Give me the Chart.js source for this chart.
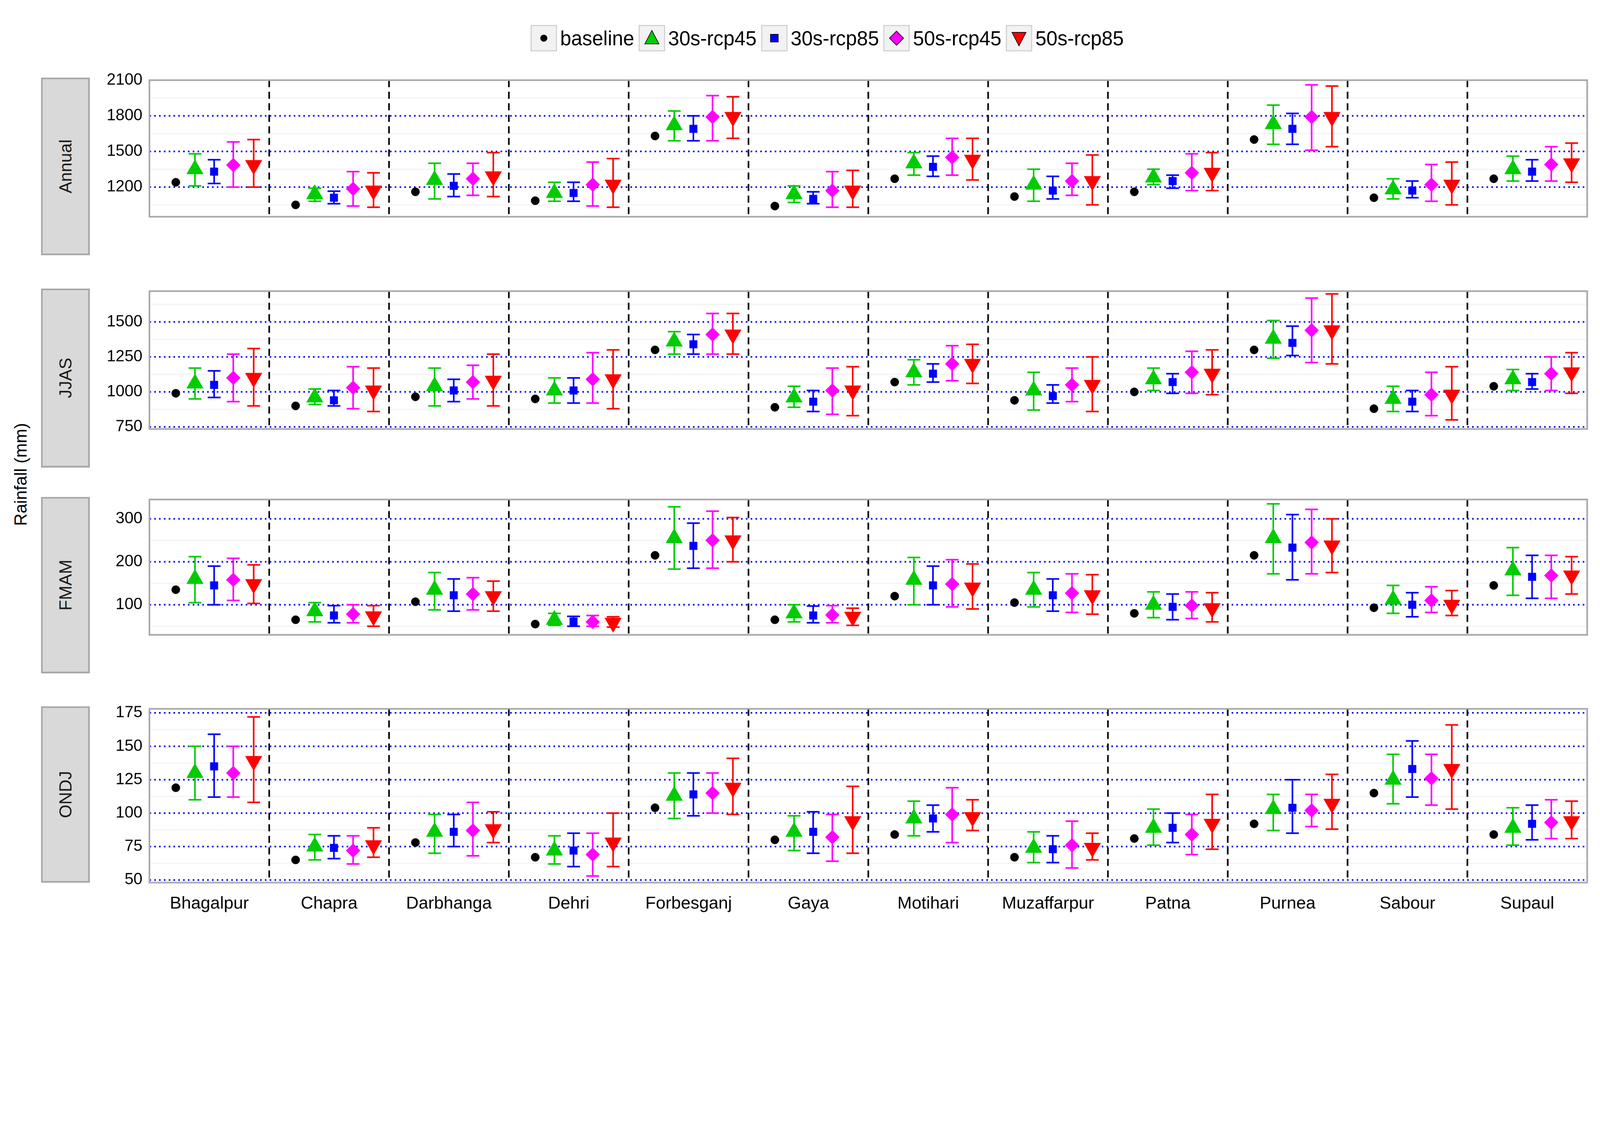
<!DOCTYPE html>
<html><head><meta charset="utf-8">
<script src="https://cdn.jsdelivr.net/npm/chart.js@4"></script>
<style>
html,body{margin:0;padding:0;overflow:hidden;background:#fff}
#root{position:absolute;left:0;top:0;width:4990px;height:2888px;background:#fff;font-family:"Liberation Sans",Arial,sans-serif;transform-origin:0 0}
canvas{position:absolute;left:0}
.strip{position:absolute;left:128px;width:152px;background:#d9d9d9;border:5px solid #a6a6a6;box-sizing:border-box}
.strip span{position:absolute;left:50%;top:50%;transform:translate(-50%,-50%) rotate(-90deg);font-size:54px;color:#1a1a1a;white-space:nowrap}
#ylab{position:absolute;left:64px;top:1480px;transform:translate(-50%,-50%) rotate(-90deg);font-size:54px;white-space:nowrap}
#legend{position:absolute;top:78px;left:1655px;display:flex;gap:14px;font-size:62px;align-items:center}
#legend div{display:flex;align-items:center;gap:10px}
#legend svg{border:3px solid #ccc;background:#f2f2f2}
</style></head><body>
<div id="root">
<div id="legend"></div>
<div id="ylab">Rainfall (mm)</div>
</div>
<script>
const cities=["Bhagalpur","Chapra","Darbhanga","Dehri","Forbesganj","Gaya","Motihari","Muzaffarpur","Patna","Purnea","Sabour","Supaul"];
const seriesNames=["baseline","30s-rcp45","30s-rcp85","50s-rcp45","50s-rcp85"];
// Annual
const annBase=[1240,1050,1160,1085,1630,1040,1270,1120,1160,1600,1110,1270];
const ann45_30=[1350,1140,1260,1150,1720,1140,1400,1220,1280,1730,1180,1350];
const ann45_30Lo=[1210,1080,1100,1080,1590,1070,1300,1080,1220,1560,1100,1250];
const ann45_30Hi=[1480,1190,1400,1240,1840,1210,1490,1350,1350,1890,1270,1460];
const ann85_30=[1330,1110,1210,1150,1690,1100,1370,1170,1250,1690,1170,1330];
const ann85_30Lo=[1230,1060,1120,1080,1590,1060,1290,1100,1190,1560,1110,1250];
const ann85_30Hi=[1430,1165,1310,1240,1800,1160,1460,1290,1300,1820,1250,1430];
const ann45_50=[1385,1185,1270,1220,1790,1170,1450,1250,1320,1790,1220,1390];
const ann45_50Lo=[1200,1040,1130,1040,1590,1030,1300,1130,1170,1510,1080,1250];
const ann45_50Hi=[1580,1330,1400,1410,1970,1330,1610,1400,1480,2060,1390,1540];
const ann85_50=[1385,1170,1290,1220,1790,1170,1430,1250,1320,1790,1220,1400];
const ann85_50Lo=[1200,1030,1120,1030,1610,1030,1260,1050,1170,1540,1050,1240];
const ann85_50Hi=[1600,1320,1490,1440,1960,1340,1610,1470,1490,2050,1410,1570];
// JJAS
const jjBase=[990,900,965,950,1300,890,1070,940,1000,1300,880,1040];
const jj45_30=[1060,960,1040,1010,1360,960,1140,1010,1090,1380,950,1090];
const jj45_30Lo=[950,910,900,920,1270,890,1050,870,1010,1240,860,1010];
const jj45_30Hi=[1170,1020,1170,1100,1430,1040,1230,1140,1170,1510,1040,1160];
const jj85_30=[1050,940,1010,1010,1340,930,1130,970,1070,1350,930,1070];
const jj85_30Lo=[960,900,930,920,1270,860,1070,920,990,1260,860,1020];
const jj85_30Hi=[1150,1010,1090,1100,1410,1010,1200,1050,1130,1470,1010,1130];
const jj45_50=[1100,1030,1070,1090,1410,1010,1200,1050,1140,1440,980,1130];
const jj45_50Lo=[930,880,950,920,1270,840,1080,930,990,1210,830,1010];
const jj45_50Hi=[1270,1180,1190,1280,1560,1170,1330,1170,1290,1670,1140,1250];
const jj85_50=[1100,1010,1080,1090,1410,1010,1200,1050,1130,1440,980,1140];
const jj85_50Lo=[900,860,900,880,1270,830,1060,860,980,1200,800,990];
const jj85_50Hi=[1310,1170,1270,1300,1560,1180,1340,1250,1300,1700,1180,1280];
// FMAM
const fmBase=[135,65,107,55,215,65,120,105,80,215,93,145];
const fm45_30=[160,85,135,65,255,80,158,135,100,255,112,180];
const fm45_30Lo=[105,60,88,52,183,60,100,95,70,172,80,122];
const fm45_30Hi=[212,105,175,80,328,100,210,175,130,335,145,233];
const fm85_30=[145,75,122,61,237,75,145,122,95,233,100,165];
const fm85_30Lo=[100,58,85,50,185,58,100,85,65,158,72,115];
const fm85_30Hi=[190,98,160,73,290,97,190,160,125,310,128,215];
const fm45_50=[158,78,125,60,250,76,148,127,98,245,110,168];
const fm45_50Lo=[110,58,88,50,185,58,95,82,68,172,82,115];
const fm45_50Hi=[208,100,163,75,318,98,205,172,130,322,142,215];
const fm85_50=[148,73,120,58,250,72,140,122,92,238,100,168];
const fm85_50Lo=[103,50,85,48,200,52,90,78,60,175,75,125];
const fm85_50Hi=[193,98,155,72,303,92,195,170,128,300,133,212];
// ONDJ
const onBase=[119,65,78,67,104,80,84,67,81,92,115,84];
const on45_30=[130,75,86,72,113,86,96,74,89,103,125,89];
const on45_30Lo=[110,65,70,62,96,72,83,63,76,87,107,76];
const on45_30Hi=[150,84,99,83,130,98,109,86,103,114,144,104];
const on85_30=[135,74,86,72,114,86,96,73,89,104,133,92];
const on85_30Lo=[112,66,75,60,98,70,86,63,78,85,112,80];
const on85_30Hi=[159,83,99,85,130,101,106,83,100,125,154,106];
const on45_50=[130,72,87,69,115,82,99,76,84,102,126,93];
const on45_50Lo=[112,62,68,53,100,64,78,59,69,90,106,81];
const on45_50Hi=[150,83,108,85,130,99,119,94,99,114,144,110];
const on85_50=[139,76,88,78,119,94,97,74,92,107,133,94];
const on85_50Lo=[108,67,78,60,99,70,87,65,73,88,103,81];
const on85_50Hi=[172,89,101,100,141,120,110,85,114,129,166,109];

const panels=[
 {name:"Annual",top:242,bottom:796,min:950,max:2100,ticks:[1200,1500,1800,2100],minor:[1050,1350,1650,1950],
  s:[[annBase],[ann45_30,ann45_30Lo,ann45_30Hi],[ann85_30,ann85_30Lo,ann85_30Hi],[ann45_50,ann45_50Lo,ann45_50Hi],[ann85_50,ann85_50Lo,ann85_50Hi]]},
 {name:"JJAS",top:900,bottom:1458,min:735,max:1720,ticks:[750,1000,1250,1500],minor:[875,1125,1375,1625],
  s:[[jjBase],[jj45_30,jj45_30Lo,jj45_30Hi],[jj85_30,jj85_30Lo,jj85_30Hi],[jj45_50,jj45_50Lo,jj45_50Hi],[jj85_50,jj85_50Lo,jj85_50Hi]]},
 {name:"FMAM",top:1550,bottom:2100,min:30,max:345,ticks:[100,200,300],minor:[50,150,250],
  s:[[fmBase],[fm45_30,fm45_30Lo,fm45_30Hi],[fm85_30,fm85_30Lo,fm85_30Hi],[fm45_50,fm45_50Lo,fm45_50Hi],[fm85_50,fm85_50Lo,fm85_50Hi]]},
 {name:"ONDJ",top:2203,bottom:2753,min:48,max:178,ticks:[50,75,100,125,150,175],minor:[62.5,87.5,112.5,137.5,162.5],
  s:[[onBase],[on45_30,on45_30Lo,on45_30Hi],[on85_30,on85_30Lo,on85_30Hi],[on45_50,on45_50Lo,on45_50Hi],[on85_50,on85_50Lo,on85_50Hi]]}
];
const colors=["#000000","#00cc00","#0000ff","#ff00ff","#ff0000"];
const offsets=[-0.28,-0.12,0.04,0.2,0.37];
const styles=[{ps:"circle",r:13,rot:0},{ps:"triangle",r:30,rot:0},{ps:"rect",r:17,rot:0},{ps:"rectRot",r:22,rot:0},{ps:"triangle",r:30,rot:180}];

const root=document.getElementById("root");
const sc=window.innerWidth/4990;
root.style.transform="scale("+sc+")";

const errPlugin={id:"err",
 beforeDatasetsDraw(chart){
  const {ctx,chartArea:a,scales:{x,y}}=chart;
  const o=chart.options.plugins.err;
  ctx.save();
  ctx.strokeStyle="#f4f4f4";ctx.lineWidth=4;
  o.minor.forEach(v=>{const py=y.getPixelForValue(v);ctx.beginPath();ctx.moveTo(a.left,py);ctx.lineTo(a.right,py);ctx.stroke();});
  ctx.strokeStyle="#0000ff";ctx.lineWidth=5;ctx.setLineDash([5,10]);
  o.ticks.forEach(v=>{const py=y.getPixelForValue(v);if(py<a.top+3)return;ctx.beginPath();ctx.moveTo(a.left,py);ctx.lineTo(a.right,py);ctx.stroke();});
  ctx.strokeStyle="#000";ctx.lineWidth=5;ctx.setLineDash([22,14]);
  for(let i=0;i<cities.length-1;i++){const px=x.getPixelForValue(i+0.5);ctx.beginPath();ctx.moveTo(px,a.top);ctx.lineTo(px,a.bottom);ctx.stroke();}
  ctx.setLineDash([]);
  chart.data.datasets.forEach(ds=>{
   if(!ds.lo)return;
   ctx.strokeStyle=ds.borderColor;ctx.lineWidth=5;
   ds.data.forEach((p,i)=>{
    const px=x.getPixelForValue(p.x),lo=y.getPixelForValue(ds.lo[i]),hi=y.getPixelForValue(ds.hi[i]);
    ctx.beginPath();ctx.moveTo(px,lo);ctx.lineTo(px,hi);
    ctx.moveTo(px-20,lo);ctx.lineTo(px+20,lo);ctx.moveTo(px-20,hi);ctx.lineTo(px+20,hi);ctx.stroke();
   });
  });
  ctx.restore();
 },
 afterDraw(chart){
  const {ctx,chartArea:a}=chart;ctx.save();ctx.strokeStyle="#a6a6a6";ctx.lineWidth=5;
  ctx.strokeRect(a.left,a.top,a.right-a.left,a.bottom-a.top);ctx.restore();
 }};

panels.forEach((p,pi)=>{
 const last=pi===panels.length-1;
 const padT=30;
 const h=(p.bottom-p.top)+padT+(last?120:10);
 const cv=document.createElement("canvas");
 cv.style.top=(p.top-padT)+"px";cv.style.width="4990px";cv.style.height=h+"px";
 cv.width=4990;cv.height=h;
 root.appendChild(cv);
 const st=document.createElement("div");st.className="strip";
 st.style.top=p.top+"px";st.style.height=(p.bottom-p.top)+"px";
 st.innerHTML="<span>"+p.name+"</span>";root.appendChild(st);
 const datasets=p.s.map((arr,si)=>({
  label:seriesNames[si],
  data:arr[0].map((v,i)=>({x:i+offsets[si],y:v})),
  lo:arr[1],hi:arr[2],
  showLine:false,borderColor:colors[si],backgroundColor:colors[si],
  pointStyle:styles[si].ps,pointRadius:styles[si].r,pointRotation:styles[si].rot,borderWidth:1
 }));
 new Chart(cv,{type:"scatter",data:{datasets},plugins:[errPlugin],
  options:{responsive:false,animation:false,devicePixelRatio:1,
   layout:{padding:{top:padT,right:40,bottom:last?0:10,left:0}},
   plugins:{legend:{display:false},tooltip:{enabled:false},err:{ticks:p.ticks,minor:p.minor}},
   scales:{
    x:{type:"linear",min:-0.5,max:11.5,display:last,
     afterBuildTicks:s=>{s.ticks=cities.map((c,i)=>({value:i}));},
     afterFit:s=>{s.height=120;},
     grid:{display:false,drawTicks:true,tickLength:14,tickColor:"#000"},border:{display:false},
     ticks:{autoSkip:false,maxRotation:0,color:"#000",font:{size:54,family:"Liberation Sans"},padding:20,callback:v=>cities[v]}},
    y:{min:p.min,max:p.max,
     afterBuildTicks:s=>{s.ticks=p.ticks.map(v=>({value:v}));},
     afterFit:s=>{s.width=466;},
     grid:{display:false,drawTicks:true,tickLength:14,tickColor:"#000"},border:{display:false},
     ticks:{color:"#000",font:{size:50,family:"'Liberation Sans Narrow','Liberation Sans'"},padding:8,callback:v=>String(v)}}
   }}});
});

const lg=document.getElementById("legend");
const svgs=[
 '<circle cx="38" cy="38" r="11" fill="#000"/>',
 '<polygon points="38,14 60,56 16,56" fill="#00cc00" stroke="#000" stroke-width="2"/>',
 '<rect x="26" y="26" width="24" height="24" fill="#0000ff" stroke="#000" stroke-width="2"/>',
 '<polygon points="38,16 60,38 38,60 16,38" fill="#ff00ff" stroke="#000" stroke-width="2"/>',
 '<polygon points="16,20 60,20 38,62" fill="#ff0000" stroke="#000" stroke-width="2"/>'];
seriesNames.forEach((n,i)=>{const d=document.createElement("div");
 d.innerHTML='<svg width="76" height="76">'+svgs[i]+'</svg><span>'+n+'</span>';lg.appendChild(d);});
</script></body></html>
